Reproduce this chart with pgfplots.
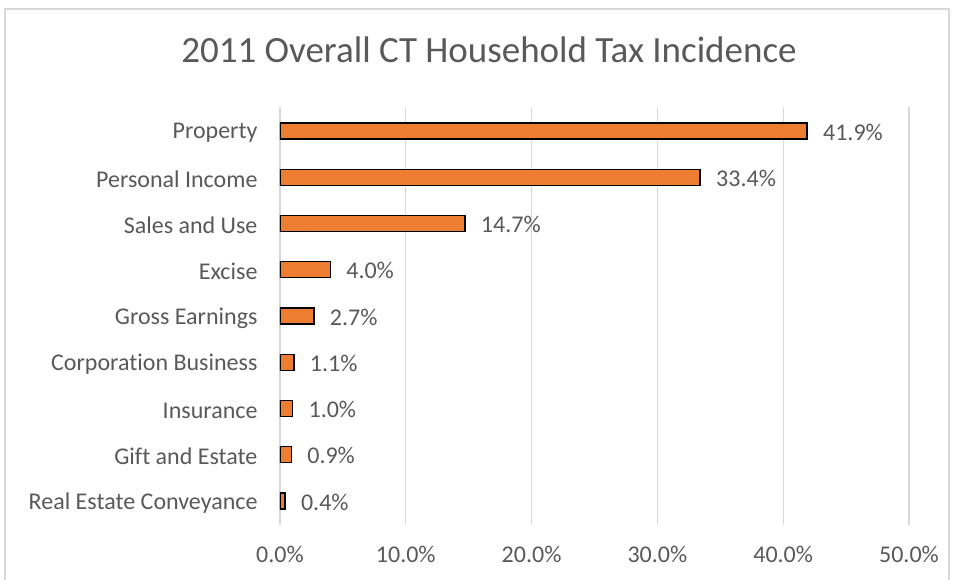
\documentclass[border=0pt]{standalone}
\usepackage{pgfplots}
\pgfplotsset{compat=1.18}
\usepackage{fontspec}
\setmainfont{Carlito}[Ligatures={NoCommon}]
\definecolor{barorange}{HTML}{ED7D31}
\definecolor{txtgray}{HTML}{595959}
\definecolor{gridgray}{HTML}{D9D9D9}
\begin{document}
\begin{tikzpicture}[x=1pt,y=1pt]
\useasboundingbox (0,0) rectangle (956,579);
\draw[color=gridgray, line width=1.2pt] (5,-5) rectangle (949,570);
\node[text=txtgray, font=\fontsize{37}{42}\selectfont] at (489,529) {2011 Overall CT Household Tax Incidence};
\begin{axis}[
  at={(280pt,54pt)}, anchor=south west,
  scale only axis, width=629pt, height=418pt,
  xbar, bar width=16pt,
  xmin=0, xmax=50, ymin=-0.52, ymax=8.52,
  xtick={0,10,20,30,40,50},
  xticklabel={\pgfmathprintnumber[fixed,fixed zerofill,precision=1]{\tick}\%},
  ytick=data,
  yticklabels={Real Estate Conveyance,Gift and Estate,Insurance,Corporation Business,Gross Earnings,Excise,Sales and Use,Personal Income,Property\hspace{5pt}},
  /pgf/number format/assume math mode=true,
  xmajorgrids, grid style={color=gridgray, line width=1.2pt},
  axis line style={draw=none},
  major tick length=0pt,
  tick label style={text=txtgray, font=\fontsize{24}{28}\selectfont},
  xticklabel style={yshift=-18pt},
  yticklabel style={xshift=-19pt, yshift=-2pt},
  nodes near coords={\pgfmathprintnumber[fixed,fixed zerofill,precision=1]{\pgfplotspointmeta}\%},
  nodes near coords style={text=txtgray, font=\fontsize{24}{28}\selectfont, xshift=12pt, yshift=-1pt},
]
\addplot[fill=barorange, draw=black, line width=1.4pt] coordinates {
(0.4,0) (0.9,1) (1.0,2) (1.1,3) (2.7,4) (4.0,5) (14.7,6) (33.4,7) (41.9,8)
};
\end{axis}
\end{tikzpicture}
\end{document}
